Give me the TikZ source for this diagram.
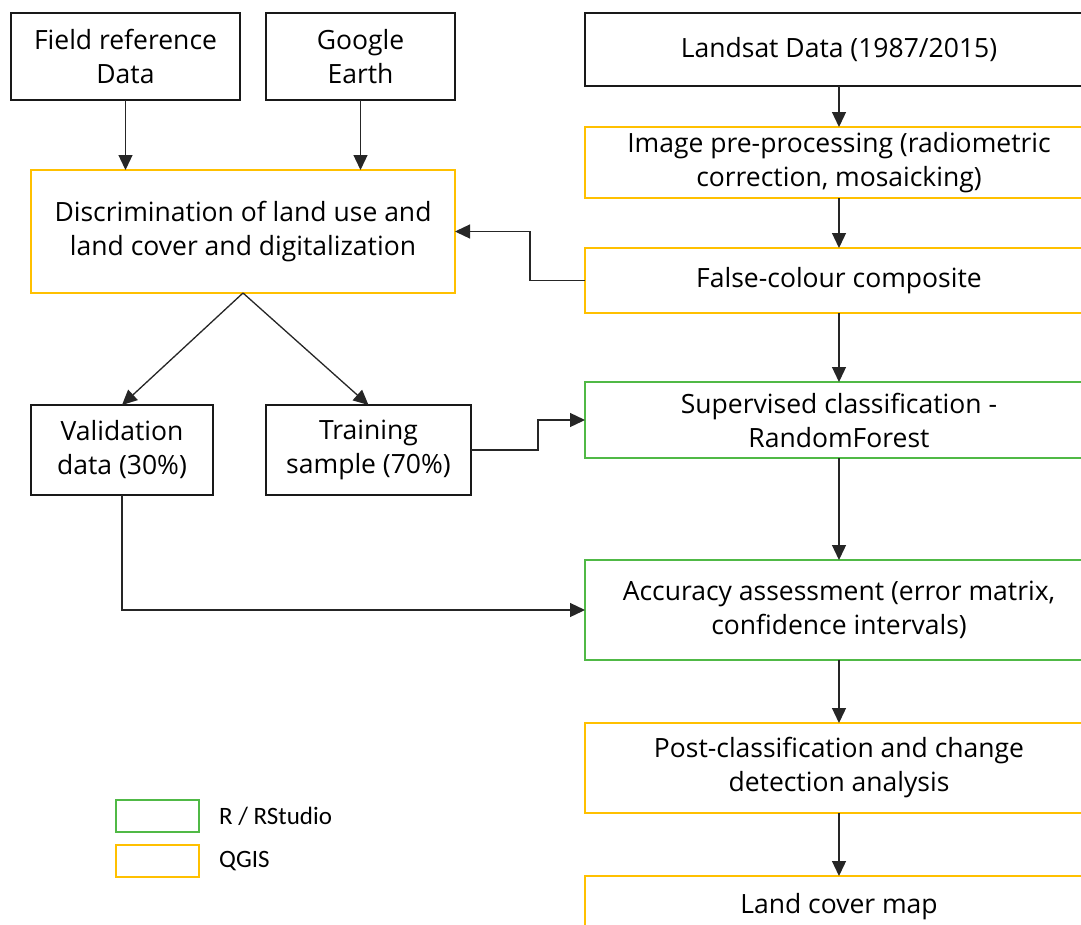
\documentclass[tikz,border=0pt]{standalone}
\usepackage{fontspec}
\setmainfont{Open Sans}
\newfontfamily\legfont{Carlito}
\usetikzlibrary{arrows.meta}
\definecolor{qyellow}{RGB}{255,192,0}
\definecolor{rgreen}{RGB}{80,185,70}
\begin{document}
\begin{tikzpicture}[x=1pt,y=-1pt,
  box/.style={draw, line width=2.5pt, rectangle, inner sep=0pt, outer sep=0pt, align=center,
     font=\fontsize{26.5}{34}\selectfont},
  blackbox/.style={box, draw=black!90},
  qbox/.style={box, draw=qyellow},
  rbox/.style={box, draw=rgreen},
  arr/.style={draw=black!85, line width=1.3pt, -{Triangle[length=15pt,width=14pt]}},
  legtext/.style={anchor=west, inner sep=0pt, font=\legfont\fontsize{25}{28}\selectfont}]
\useasboundingbox (0,0) rectangle (1081,924);
\clip (0,0) rectangle (1081,924);
\fill[white] (0,0) rectangle (1081,924);
% left column
\node[blackbox, minimum width=229pt, minimum height=87pt] (field) at (125.5,56.5) {Field reference\\Data};
\node[blackbox, minimum width=189pt, minimum height=87pt] (google) at (360.5,56.5) {Google\\Earth};
\node[qbox, minimum width=424pt, minimum height=123pt] (discr) at (243,231.5) {Discrimination of land use and\\land cover and digitalization};
\node[blackbox, minimum width=182pt, minimum height=90pt] (valid) at (122,450) {Validation\\data (30\%)};
\node[blackbox, minimum width=205pt, minimum height=90pt] (train) at (368.5,450) {Training\\sample (70\%)};
% right column
\node[blackbox, minimum width=508pt, minimum height=73pt] (landsat) at (839,49.5) {Landsat Data (1987/2015)};
\node[qbox, minimum width=508pt, minimum height=71pt] (imgpre) at (839,162.5) {Image pre-processing (radiometric\\correction, mosaicking)};
\node[qbox, minimum width=508pt, minimum height=65pt] (falsec) at (839,280.5) {False-colour composite};
\node[rbox, minimum width=508pt, minimum height=76pt] (superv) at (839,420) {Supervised classification -\\RandomForest};
\node[rbox, minimum width=508pt, minimum height=100pt] (accur) at (839,610) {Accuracy assessment (error matrix,\\confidence intervals)};
\node[qbox, minimum width=508pt, minimum height=90pt] (post) at (839,768) {Post-classification and change\\detection analysis};
\node[qbox, minimum width=508pt, minimum height=62pt] (landc) at (839,907) {Land cover map};
% legend
\node[draw=rgreen, line width=2.5pt, minimum width=83pt, minimum height=32pt, inner sep=0pt] (legR) at (157.5,816) {};
\node[draw=qyellow, line width=2.5pt, minimum width=83pt, minimum height=32pt, inner sep=0pt] (legQ) at (157.5,861) {};
\node[legtext] (legRt) at (219,816) {R / RStudio};
\node[legtext] (legQt) at (219,861) {QGIS};
% connectors
\draw[arr] (field.south) -- (field.south |- discr.north);
\draw[arr] (google.south) -- (google.south |- discr.north);
\draw[arr] (landsat.south) -- (imgpre.north);
\draw[arr] (imgpre.south) -- (falsec.north);
\draw[arr] (falsec.west) -- ++(-55,0) |- (discr.east);
\draw[arr] (discr.south) -- (valid.north);
\draw[arr] (discr.south) -- (train.north);
\draw[arr] (falsec.south) -- (superv.north);
\draw[arr] (train.east) -- ++(67,0) |- (superv.west);
\draw[arr] (superv.south) -- (accur.north);
\draw[arr] (valid.south) |- (accur.west);
\draw[arr] (accur.south) -- (post.north);
\draw[arr] (post.south) -- (landc.north);
\end{tikzpicture}
\end{document}
